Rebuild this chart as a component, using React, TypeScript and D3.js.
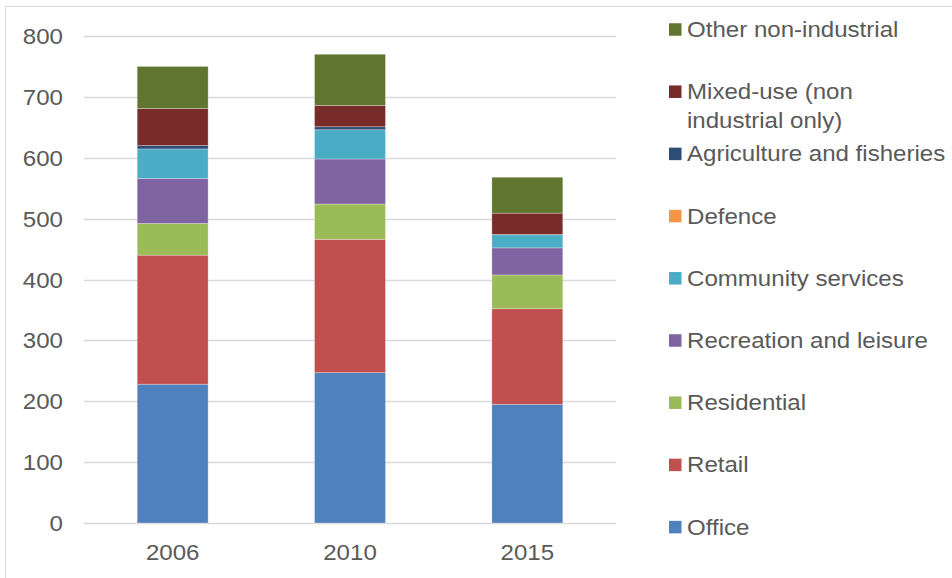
import React from "react";
import * as d3 from "d3";

const years = ["2006", "2010", "2015"];
const seriesNames = [
  "Office",
  "Retail",
  "Residential",
  "Recreation and leisure",
  "Community services",
  "Defence",
  "Agriculture and fisheries",
  "Mixed-use (non industrial only)",
  "Other non-industrial",
];
const office = [228, 247, 195];
const retail = [212, 219, 157];
const residential = [52, 58, 55.5];
const recreation = [74, 74, 44.5];
const community = [48.5, 48, 21.5];
const defence = [0, 0, 0];
const agriculture = [5.5, 5, 0.5];
const mixedUse = [61, 35, 35];
const otherNonIndustrial = [69, 84, 59];
const colors = ["#4F81BD", "#C0504D", "#9BBB59", "#8064A2", "#4BACC6", "#F79646", "#2C4D75", "#772C2A", "#5F7530"];
const legendLabels = [
  ["Other non-industrial"],
  ["Mixed-use (non", "industrial only)"],
  ["Agriculture and fisheries"],
  ["Defence"],
  ["Community services"],
  ["Recreation and leisure"],
  ["Residential"],
  ["Retail"],
  ["Office"],
];
const legendColorIdx = [8, 7, 6, 5, 4, 3, 2, 1, 0];
const yTicks = [0, 100, 200, 300, 400, 500, 600, 700, 800];

const SX = 1.07;

function T({ x, y, anchor, children }: { x: number; y: number; anchor?: string; children: any }) {
  return (
    <g transform={`translate(${x},${y}) scale(${SX},1)`}>
      <text
        x={0}
        y={0}
        textAnchor={anchor || "start"}
        fontFamily="'Liberation Sans', Arial, sans-serif"
        fontSize={22.5}
        fill="#595959"
      >
        {children}
      </text>
    </g>
  );
}

export default function App() {
  const W = 952, H = 578;
  const x0 = 84, x1 = 616, yTop = 36, yBot = 523;
  const series = [office, retail, residential, recreation, community, defence, agriculture, mixedUse, otherNonIndustrial];
  const rows = years.map((yr, i) => {
    const r: any = { year: yr };
    seriesNames.forEach((n, k) => (r[n] = series[k][i]));
    return r;
  });
  const stacked = d3.stack<any>().keys(seriesNames)(rows);
  const x = d3.scaleBand().domain(years).range([x0, x1]).paddingInner(0.6).paddingOuter(0.3);
  const y = d3.scaleLinear().domain([0, 800]).range([yBot, yTop]);
  const legendY0 = 29.5, legendStep = 62.2;

  return (
    <div style={{ position: "absolute", left: 0, top: 0 }}>
      <svg width={W} height={H} style={{ display: "block", background: "#fff" }}>
        <rect x={5.5} y={6.5} width={1000} height={700} fill="#fff" stroke="#d9d9d9" strokeWidth={1} />
        {yTicks.map((t) => (
          <g key={t}>
            <line x1={x0} x2={x1} y1={Math.round(y(t)) + 0.5} y2={Math.round(y(t)) + 0.5} stroke="#d9d9d9" strokeWidth={1.3} />
            <T x={63} y={y(t) + 8} anchor="end">{t}</T>
          </g>
        ))}
        {stacked.map((s, k) => (
          <g key={s.key} fill={colors[k]}>
            {s.map((d, i) =>
              d[1] - d[0] > 0 ? (
                <rect
                  key={i}
                  x={x(years[i])}
                  width={x.bandwidth()}
                  y={y(d[1])}
                  height={y(d[0]) - y(d[1])}
                  stroke="#ffffff"
                  strokeOpacity={0.35}
                  strokeWidth={0.8}
                />
              ) : null
            )}
          </g>
        ))}
        {years.map((yr) => (
          <T key={yr} x={(x(yr) as number) + x.bandwidth() / 2} y={560} anchor="middle">{yr}</T>
        ))}
        {legendLabels.map((lines, j) => {
          const cy = legendY0 + j * legendStep;
          return (
            <g key={j}>
              <rect x={669} y={cy - 6.25} width={12.5} height={12.5} fill={colors[legendColorIdx[j]]} />
              {lines.map((ln, li) => (
                <T key={li} x={687} y={cy + 7.5 + li * 29}>{ln}</T>
              ))}
            </g>
          );
        })}
      </svg>
    </div>
  );
}
